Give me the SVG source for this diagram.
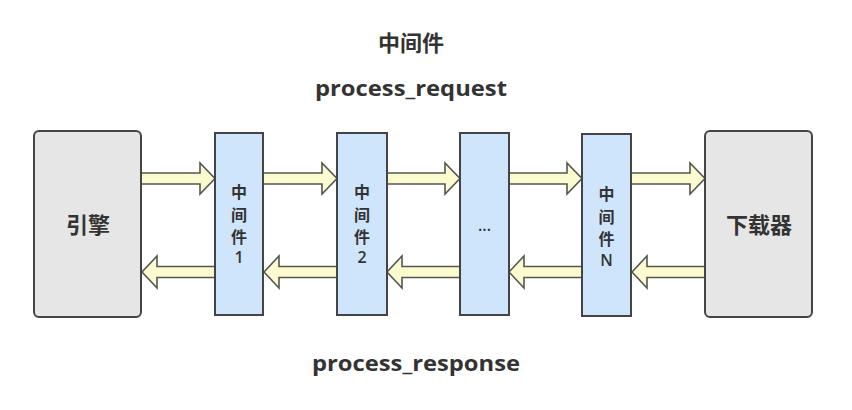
<svg xmlns="http://www.w3.org/2000/svg" width="852" height="410" viewBox="0 0 852 410">
<style>
.end{fill:#e6e6e6;stroke:#444;stroke-width:2}
.mw{fill:#cfe5fc;stroke:#444;stroke-width:2}
.arr{fill:#fbfbcf;stroke:#555;stroke-width:1.6;stroke-linejoin:miter}
.t{font-family:"Open Sans","Noto Sans CJK SC",sans-serif;fill:#333;text-anchor:middle}
.big{font-size:22px;font-weight:bold}
.lab{font-size:16px;font-weight:600}
</style>
<rect width="852" height="410" fill="#fff"/>
<g id="title">
<text class="t big" x="411" y="51" font-family="Noto Sans CJK SC, sans-serif">中间件</text>
<text class="t big" x="411" y="96" textLength="192" lengthAdjust="spacingAndGlyphs">process_request</text>
<text class="t big" x="416" y="371" textLength="208" lengthAdjust="spacingAndGlyphs">process_response</text>
</g>
<g id="connectors">
<path class="arr" d="M141,173 H200 V163 L215,178.5 L200,194 V184 H141 Z"/>
<path class="arr" d="M263,173 H322 V163 L337,178.5 L322,194 V184 H263 Z"/>
<path class="arr" d="M387,173 H445 V163 L460,178.5 L445,194 V184 H387 Z"/>
<path class="arr" d="M509,173 H567 V163 L582,178.5 L567,194 V184 H509 Z"/>
<path class="arr" d="M631,173 H690 V163 L705,178.5 L690,194 V184 H631 Z"/>
<path class="arr" d="M215,266.5 H157 V256 L142,272 L157,288 V277.5 H215 Z"/>
<path class="arr" d="M337,266.5 H279 V256 L264,272 L279,288 V277.5 H337 Z"/>
<path class="arr" d="M460,266.5 H402 V256 L387,272 L402,288 V277.5 H460 Z"/>
<path class="arr" d="M582,266.5 H524 V256 L509,272 L524,288 V277.5 H582 Z"/>
<path class="arr" d="M705,266.5 H647 V256 L632,272 L647,288 V277.5 H705 Z"/>
</g>
<g id="engine">
<rect class="end" x="34" y="131" width="107" height="186" rx="5"/>
<text class="t big" x="88" y="233">引擎</text>
</g>
<g id="mw1">
<rect class="mw" x="215" y="133" width="48" height="182"/>
<text class="t lab" x="239" y="198">中</text>
<text class="t lab" x="239" y="221">间</text>
<text class="t lab" x="239" y="243">件</text>
<text class="t lab" x="239" y="263">1</text>
</g>
<g id="mw2">
<rect class="mw" x="337" y="133" width="50" height="182"/>
<text class="t lab" x="362" y="198">中</text>
<text class="t lab" x="362" y="221">间</text>
<text class="t lab" x="362" y="243">件</text>
<text class="t lab" x="362" y="263">2</text>
</g>
<g id="mwdots">
<rect class="mw" x="460" y="133" width="49" height="182"/>
<text class="t lab" x="484.5" y="231">...</text>
</g>
<g id="mwN">
<rect class="mw" x="582" y="134" width="49" height="182"/>
<text class="t lab" x="606.5" y="200">中</text>
<text class="t lab" x="606.5" y="223">间</text>
<text class="t lab" x="606.5" y="245">件</text>
<text class="t lab" x="606.5" y="266">N</text>
</g>
<g id="downloader">
<rect class="end" x="705" y="131" width="107" height="186" rx="5"/>
<text class="t big" x="759" y="233">下载器</text>
</g>
</svg>
